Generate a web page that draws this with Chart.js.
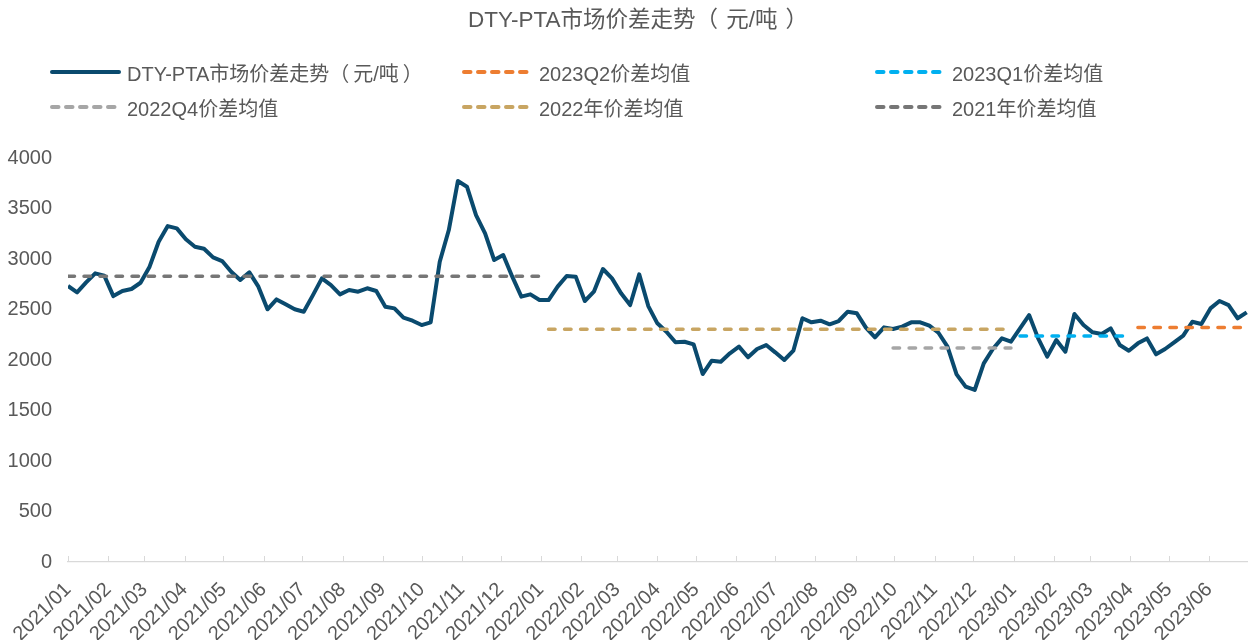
<!DOCTYPE html>
<html>
<head>
<meta charset="utf-8">
<script src="https://cdn.jsdelivr.net/npm/chart.js@4.4.0/dist/chart.umd.min.js"></script>
<style>
    body { margin: 0; background: #fff; }
    #wrap { position: relative; width: 1248px; height: 640px; font-family: "Liberation Sans", "Noto Sans CJK SC", sans-serif; color: #595959; }
    #title { position: absolute; left: 28px; top: 1px; width: 1220px; text-align: center; font-size: 22.5px; }
    #title .pl { padding-right: 8px; }
    #title .pr { padding-left: 8px; }
    .item { position: absolute; display: flex; align-items: center; font-size: 20px; white-space: nowrap; }
    .item .pl { padding-right: 4px; }
    .item .pr { padding-left: 4px; }
    .item svg { margin-right: 5px; }
    canvas { position: absolute; left: 0; top: 0; }
</style>
</head>
<body>
<div id="wrap">
    <canvas id="spreadChart" width="1248" height="640"></canvas>
    <div id="title"></div>
    <div id="legend"></div>
</div>
<script>
// =======================
// DATA
// =======================
const firstWeek = "2021/01/01";

// weekly spread, yuan/ton
const spreadValues = [
    2733, 2670, 2769, 2858, 2835, 2633, 2683, 2703, 2765, 2924,
    3171, 3326, 3303, 3195, 3122, 3102, 3016, 2980, 2874, 2792,
    2868, 2726, 2502, 2600, 2551, 2502, 2478, 2640, 2808, 2742,
    2650, 2693, 2676, 2710, 2683, 2528, 2511, 2419, 2389, 2346,
    2373, 2973, 3287, 3772, 3716, 3435, 3254, 2990, 3039, 2825,
    2627, 2650, 2594, 2594, 2726, 2831, 2825, 2584, 2676, 2901,
    2808, 2660, 2544, 2848, 2534, 2363, 2280, 2175, 2181, 2155,
    1861, 1993, 1983, 2066, 2132, 2027, 2109, 2148, 2076, 2000,
    2092, 2413, 2373, 2389, 2353, 2386, 2478, 2462, 2320, 2224,
    2323, 2307, 2330, 2373, 2373, 2340, 2270, 2132, 1858, 1736,
    1703, 1967, 2109, 2214, 2181, 2313, 2445, 2214, 2033, 2198,
    2082, 2455, 2346, 2274, 2257, 2313, 2148, 2092, 2165, 2214,
    2056, 2109, 2175, 2241, 2379, 2356, 2511, 2584, 2544, 2413,
    2472
];

// average lines
const avgNames  = ["2023Q2价差均值", "2023Q1价差均值", "2022Q4价差均值", "2022年价差均值", "2021年价差均值"];
const avgValues = [2323, 2237, 2120, 2305, 2830];
const avgStart  = ["2023/04/07", "2023/01/06", "2022/09/30", "2022/01/07", "2021/01/01"];
const avgEnd    = ["2023/06/30", "2023/03/31", "2022/12/30", "2022/12/30", "2021/12/31"];
const avgColors = ["#ed7d31", "#00b0f0", "#a6a6a6", "#c8a562", "#767676"];

const monthLabels = [
    "2021/01", "2021/02", "2021/03", "2021/04", "2021/05", "2021/06",
    "2021/07", "2021/08", "2021/09", "2021/10", "2021/11", "2021/12",
    "2022/01", "2022/02", "2022/03", "2022/04", "2022/05", "2022/06",
    "2022/07", "2022/08", "2022/09", "2022/10", "2022/11", "2022/12",
    "2023/01", "2023/02", "2023/03", "2023/04", "2023/05", "2023/06"
];
const axisEnd = "2023/07/01";

const yTicks = [0, 500, 1000, 1500, 2000, 2500, 3000, 3500, 4000];

const mainName = "DTY-PTA市场价差走势（元/吨）";
const mainColor = "#0a4a6e";

// =======================
// HELPERS
// =======================
function dayOf(str) {
    let p = str.split("/").map(Number);
    let d = p.length > 2 ? p[2] : 1;
    let base = Date.UTC(2021, 0, 1);
    return Math.round((Date.UTC(p[0], p[1] - 1, d) - base) / 86400000);
}

// wrap the full-width brackets so they can get a little air, like the original
function withParens(s) {
    return s.replace("（", '<span class="pl">（</span>').replace("）", '<span class="pr">）</span>');
}

const startDay = dayOf(firstWeek);
const monthDays = monthLabels.map(dayOf);

// =======================
// DATASETS
// =======================
let datasets = [{
    label: mainName,
    data: spreadValues.map((v, i) => ({ x: startDay + i * 7, y: v })),
    borderColor: mainColor,
    borderWidth: 4,
    pointRadius: 0,
    tension: 0,
    borderJoinStyle: "round",
    order: 1
}];

avgNames.forEach((name, i) => {
    datasets.push({
        label: name,
        data: [
            { x: dayOf(avgStart[i]), y: avgValues[i] },
            { x: dayOf(avgEnd[i]), y: avgValues[i] }
        ],
        borderColor: avgColors[i],
        borderWidth: 3.5,
        borderDash: [6.5, 9.5],
        borderCapStyle: "round",
        pointRadius: 0,
        order: 0
    });
});

// =======================
// TITLE + HTML LEGEND
// =======================
document.getElementById("title").innerHTML = withParens(mainName);

const legendItems = [
    { name: mainName, color: mainColor, dash: false },
    { name: avgNames[0], color: avgColors[0], dash: true },
    { name: avgNames[1], color: avgColors[1], dash: true },
    { name: avgNames[2], color: avgColors[2], dash: true },
    { name: avgNames[3], color: avgColors[3], dash: true },
    { name: avgNames[4], color: avgColors[4], dash: true }
];
const colX = [48, 460, 873];
const rowY = [60, 95];

let legendHtml = "";
legendItems.forEach((it, i) => {
    let x = colX[i % 3];
    let y = rowY[Math.floor(i / 3)];
    let dash = it.dash ? 'stroke-dasharray="6.5 7.5"' : "";
    legendHtml += `
        <div class="item" style="left:${x}px;top:${y}px;height:24px">
            <svg width="74" height="8">
                <line x1="4" y1="4" x2="71" y2="4" stroke="${it.color}" stroke-width="4"
                      stroke-linecap="round" ${dash}/>
            </svg>
            <span>${withParens(it.name)}</span>
        </div>`;
});
document.getElementById("legend").innerHTML = legendHtml;

// =======================
// INNER TICK MARKS
// =======================
const innerTicks = {
    id: "innerTicks",
    afterDraw(chart) {
        let ctx = chart.ctx;
        let xs = chart.scales.x;
        let bottom = chart.chartArea.bottom;
        ctx.save();
        ctx.strokeStyle = "#d9d9d9";
        ctx.lineWidth = 1;
        xs.ticks.forEach(t => {
            let px = Math.round(xs.getPixelForValue(t.value)) + 0.5;
            ctx.beginPath();
            ctx.moveTo(px, bottom - 6);
            ctx.lineTo(px, bottom);
            ctx.stroke();
        });
        ctx.restore();
    }
};

// =======================
// CHART
// =======================
Chart.defaults.font.family = '"Liberation Sans", "Noto Sans CJK SC", sans-serif';
Chart.defaults.color = "#595959";

new Chart(document.getElementById("spreadChart"), {
    type: "line",
    data: { datasets: datasets },
    options: {
        responsive: false,
        animation: false,
        layout: { padding: { top: 158, left: 0, right: 0, bottom: 0 } },
        plugins: {
            legend: { display: false },
            tooltip: { enabled: false }
        },
        scales: {
            x: {
                type: "linear",
                min: 0,
                max: dayOf(axisEnd),
                afterBuildTicks: s => { s.ticks = monthDays.map(v => ({ value: v })); },
                afterFit: s => { s.height = 78; },
                grid: { display: false, drawTicks: false },
                border: { display: true, color: "#d9d9d9", width: 1.3 },
                ticks: {
                    autoSkip: false,
                    maxRotation: 45,
                    minRotation: 45,
                    padding: 16,
                    font: { size: 20 },
                    callback: (v, i) => monthLabels[i]
                }
            },
            y: {
                min: 0,
                max: 4000,
                afterBuildTicks: s => { s.ticks = yTicks.map(v => ({ value: v })); },
                afterFit: s => { s.width = 68; },
                grid: { display: false, drawTicks: false },
                border: { display: false },
                ticks: { padding: 16, font: { size: 20 }, callback: v => String(v) }
            }
        }
    },
    plugins: [innerTicks]
});
</script>
</body>
</html>
